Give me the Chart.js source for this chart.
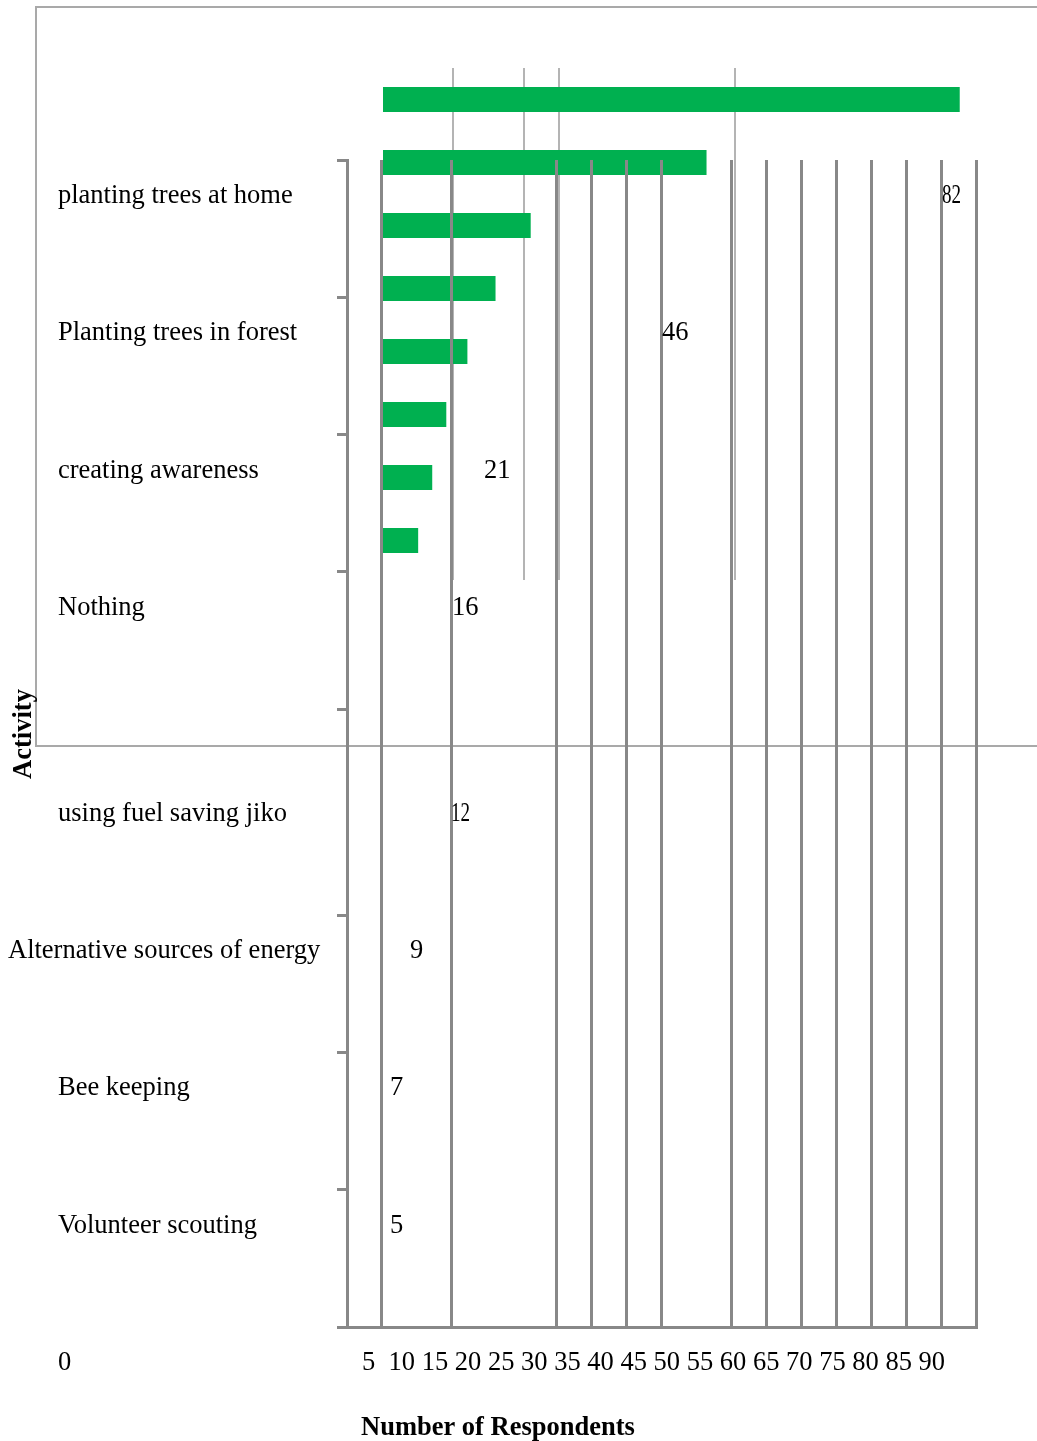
<!DOCTYPE html>
<html>
<head>
<meta charset="utf-8">
<script src="https://cdn.jsdelivr.net/npm/chart.js@4.4.1/dist/chart.umd.min.js"></script>
<style>
  html, body { margin: 0; padding: 0; background: #fff; overflow: hidden; }
  #stage { position: relative; width: 1037px; height: 1441px; overflow: hidden; background: #fff; }
  #frame { position: absolute; left: 35px; top: 6px; width: 1100px; height: 737px;
           border: 2px solid #a9a9a9; border-right: none; }
  .layer { position: absolute; left: 0; top: 0; width: 1037px; height: 1441px; }
</style>
</head>
<body>
<div id="stage">
  <div id="frame"></div>
  <div class="layer"><canvas id="bars"></canvas></div>
  <div class="layer"><canvas id="grid"></canvas></div>
</div>
<script>
// Activities and respondent counts, top to bottom
const activities = [
  'planting trees at home',
  'Planting trees in forest',
  'creating awareness',
  'Nothing',
  'using fuel saving jiko',
  'Alternative sources of energy',
  'Bee keeping',
  'Volunteer scouting'
];
const respondents = [82, 46, 21, 16, 12, 9, 7, 5];

// Light guide lines behind the bars
const barGuideTicks = [10, 20, 25, 50];
// Dark vertical grid of the respondents axis
const gridTicks = [5, 15, 30, 35, 40, 45, 55, 60, 65, 70, 75, 80, 85, 90];
// Respondents axis tick labels
const xTickLabels = ['0', '5', '10', '15', '20', '25', '30', '35', '40', '45',
                     '50', '55', '60', '65', '70', '75', '80', '85', '90'];
// Activity axis: tick marks and label rows (row units)
const rowTicks = [8.5, 7.5, 6.5, 5.5, 4.5, 3, 2, 1, 0];
const rowAnchors = [8.5, 7.5, 6.5, 5.5, 4, 3, 2, 1, 0];

// Text layout (pixels)
const rowLabelLeft = [58, 58, 58, 58, 58, 8, 58, 58, 58];
const valueLabelLeft = [942, 662, 484, 452, 451, 410, 390, 390];
const valueLabelNarrow = [true, false, false, false, true, false, false, false];

const FONT = '"Liberation Serif", "Times New Roman", Times, serif';
const GRID_GREY = '#888888';

// Bars with their light guide lines
new Chart(document.getElementById('bars'), {
  type: 'bar',
  data: {
    labels: activities,
    datasets: [{
      data: respondents,
      backgroundColor: '#00b050',
      borderWidth: 0,
      barPercentage: 0.4,
      categoryPercentage: 1
    }]
  },
  options: {
    indexAxis: 'y',
    responsive: true,
    maintainAspectRatio: false,
    animation: false,
    layout: { padding: { left: 383, right: 21, top: 68, bottom: 861 } },
    plugins: { legend: { display: false }, tooltip: { enabled: false } },
    scales: {
      x: {
        type: 'linear', min: 0, max: 90, position: 'bottom',
        afterBuildTicks: s => { s.ticks = barGuideTicks.map(v => ({ value: v })); },
        ticks: { display: false },
        border: { display: false },
        grid: { color: '#b4b4b4', lineWidth: 2, drawTicks: true, tickLength: 8 }
      },
      y: { display: false }
    }
  }
});

// Text drawn over the grid: activity names, value labels, tick labels, titles
const textLayer = {
  id: 'textLayer',
  afterDraw(chart) {
    const { ctx, scales: { y } } = chart;
    const baseline = v => y.getPixelForValue(v) + 43;
    ctx.save();
    ctx.fillStyle = '#000';
    ctx.textBaseline = 'alphabetic';
    ctx.textAlign = 'left';
    ctx.font = '26.5px ' + FONT;

    // activity names, then the axis zero in the same column
    activities.concat(xTickLabels[0]).forEach((t, i) => {
      ctx.fillText(t, rowLabelLeft[i], baseline(rowAnchors[i]));
    });

    // value labels
    respondents.forEach((v, i) => {
      const bx = valueLabelLeft[i];
      const by = baseline(rowAnchors[i]);
      if (valueLabelNarrow[i]) {
        ctx.save();
        ctx.translate(bx, by);
        ctx.scale(0.72, 1);
        ctx.fillText(String(v), 0, 0);
        ctx.restore();
      } else {
        ctx.fillText(String(v), bx, by);
      }
    });

    // respondents tick labels in one run
    const tickRow = xTickLabels[1] + '  ' + xTickLabels.slice(2).join(' ');
    ctx.fillText(tickRow, 362, baseline(rowAnchors[8]));

    // axis titles
    ctx.font = 'bold 26.5px ' + FONT;
    ctx.fillText('Number of Respondents', 361, 1435);
    ctx.save();
    ctx.translate(31, 734);
    ctx.rotate(-Math.PI / 2);
    ctx.textAlign = 'center';
    ctx.fillText('Activity', 0, 0);
    ctx.restore();

    ctx.restore();
  }
};

// Respondents grid and activity axis
new Chart(document.getElementById('grid'), {
  type: 'scatter',
  data: { datasets: [] },
  options: {
    responsive: true,
    maintainAspectRatio: false,
    animation: false,
    layout: { padding: { left: 337, right: 61, top: 160, bottom: 114 } },
    plugins: { legend: { display: false }, tooltip: { enabled: false } },
    scales: {
      x: {
        type: 'linear', min: 0, max: 90, position: 'bottom',
        afterBuildTicks: s => { s.ticks = gridTicks.map(v => ({ value: v })); },
        ticks: { display: false },
        grid: { color: GRID_GREY, lineWidth: 3, drawTicks: false },
        border: { display: true, color: GRID_GREY, width: 3 }
      },
      y: {
        type: 'linear', min: 0, max: 8.5, position: 'left',
        afterBuildTicks: s => { s.ticks = rowTicks.map(v => ({ value: v })); },
        ticks: { display: false },
        grid: { color: GRID_GREY, lineWidth: 3, drawOnChartArea: false, drawTicks: true, tickLength: 10 },
        border: { display: true, color: GRID_GREY, width: 3 }
      }
    }
  },
  plugins: [textLayer]
});
</script>
</body>
</html>
